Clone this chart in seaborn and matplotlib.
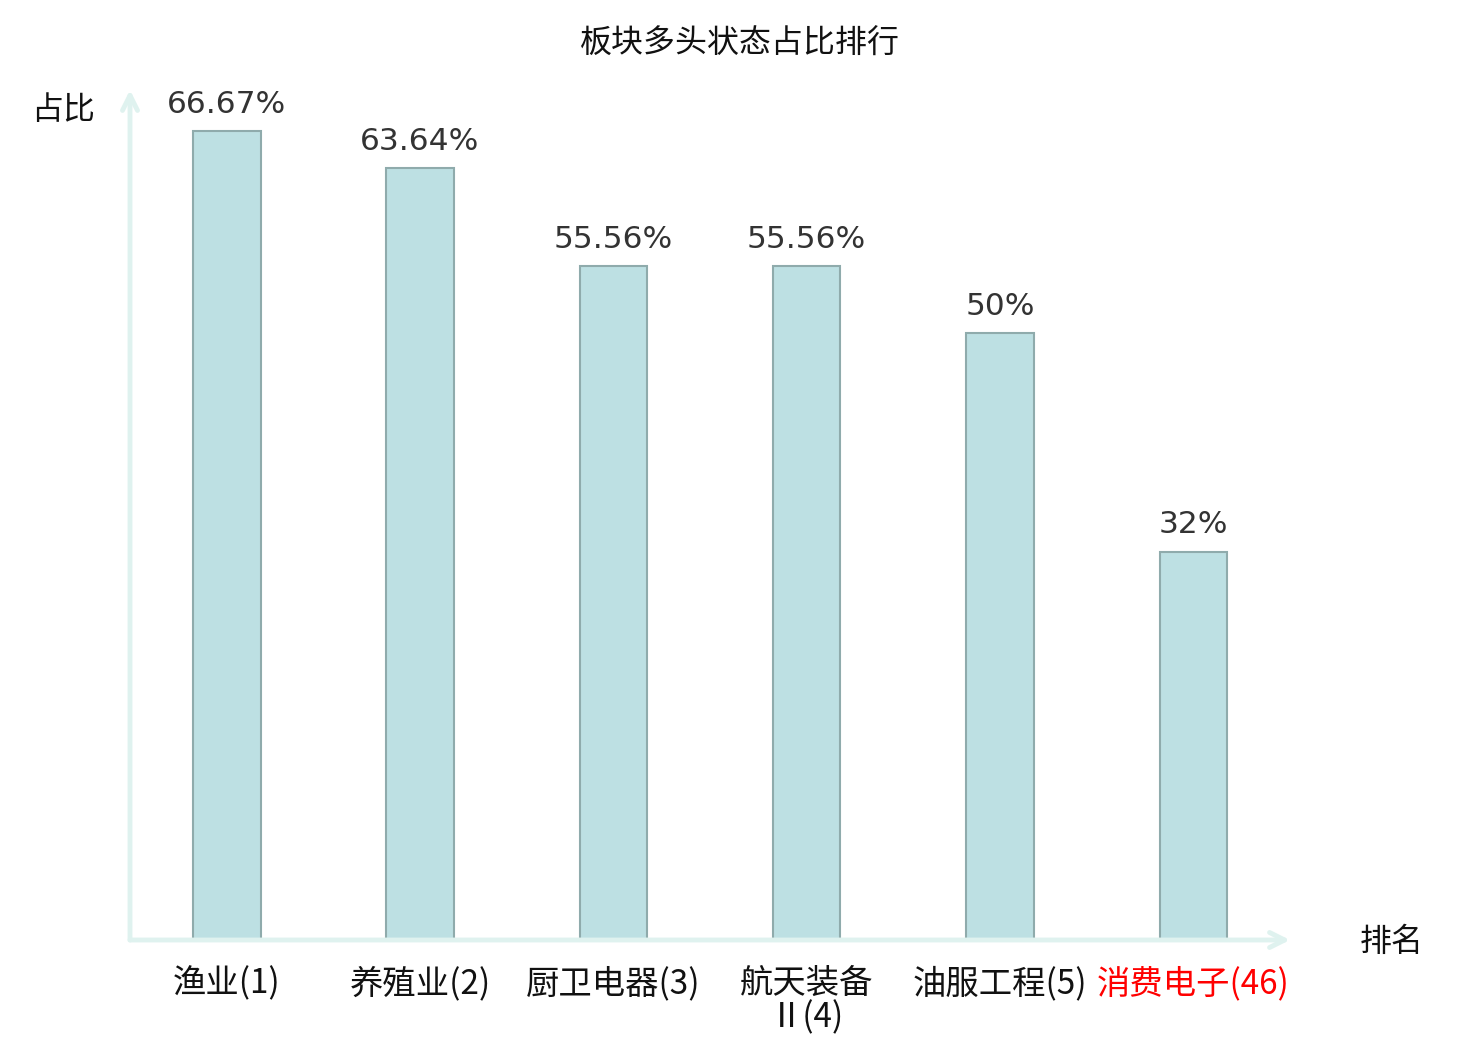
import numpy as np
import pandas as pd
import seaborn as sns
import matplotlib.pyplot as plt
from matplotlib.font_manager import FontProperties

# 板块多头状态占比 (%)
sectors = ['渔业(1)', '养殖业(2)', '厨卫电器(3)', '航天装备\nⅡ(4)', '油服工程(5)', '消费电子(46)']
ratios = [66.67, 63.64, 55.56, 55.56, 50, 32]
value_labels = ['66.67%', '63.64%', '55.56%', '55.56%', '50%', '32%']
highlight = '消费电子(46)'

df = pd.DataFrame({'sector': sectors, 'ratio': ratios})

sns.set_theme(style='white')
plt.rcParams['font.family'] = ['Noto Sans CJK SC', 'DejaVu Sans']

fig = plt.figure(figsize=(14.8, 10.4), dpi=100)
ax = fig.add_axes([130 / 1480, 100 / 1040, 1160 / 1480, 850 / 1040])

sns.barplot(data=df, x='sector', y='ratio', ax=ax, color='#bde0e3',
            edgecolor='#8fabac', linewidth=1.5, width=0.35, saturation=1)

ax.set_xlim(-0.5, 5.5)
ax.set_ylim(0, 70.07)

num_font = FontProperties(family='DejaVu Sans', size=22.5)
for i, (v, lab) in enumerate(zip(ratios, value_labels)):
    ax.annotate(lab, (i, v), xytext=(0, 9), textcoords='offset points',
                ha='center', va='bottom', color='#333333',
                fontproperties=num_font)

for s in ax.spines.values():
    s.set_visible(False)

# 坐标轴箭头
axis_col = '#dff2ef'
ax.annotate('', xy=(1.0, 0), xytext=(0, 0), xycoords='axes fraction',
            arrowprops=dict(arrowstyle='->,head_length=0.9,head_width=0.45',
                            color=axis_col, lw=3.5, shrinkA=0, shrinkB=0))
ax.annotate('', xy=(0, 1.0), xytext=(0, 0), xycoords='axes fraction',
            arrowprops=dict(arrowstyle='->,head_length=0.9,head_width=0.45',
                            color=axis_col, lw=3.5, shrinkA=0, shrinkB=0))

ax.set_yticks([])
ax.set_xlabel('')
ax.set_ylabel('')
ax.tick_params(axis='x', length=0, pad=19)
for t in ax.get_xticklabels():
    t.set_fontsize(24)
    t.set_linespacing(0.95)
    t.set_color('#ff0000' if t.get_text() == highlight else '#111111')

fig.text(740 / 1480, 1 - 44 / 1040, '板块多头状态占比排行', ha='center', va='center',
         fontsize=23, color='#111111')
fig.text(63 / 1480, 1 - 110 / 1040, '占比', ha='center', va='center',
         fontsize=23, color='#111111')
fig.text(1392 / 1480, 1 - 942 / 1040, '排名', ha='center', va='center',
         fontsize=23, color='#111111')

fig.savefig('out.png', dpi=100, facecolor='white')
